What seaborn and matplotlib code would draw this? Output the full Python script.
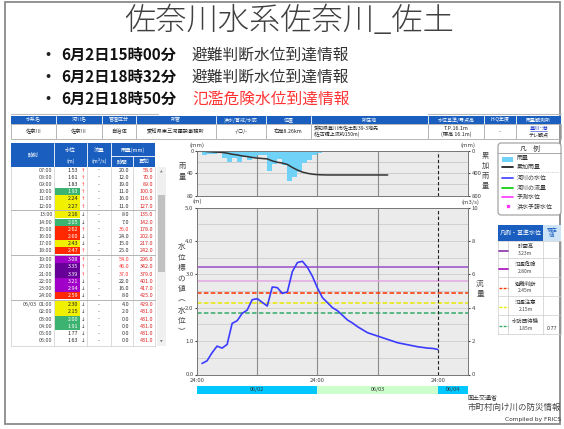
import numpy as np
import matplotlib.pyplot as plt
from matplotlib.patches import Rectangle, FancyBboxPatch
import seaborn as sns

sns.set_style("white")
plt.rcParams['font.family'] = ['Noto Sans CJK JP', 'DejaVu Sans']

W, H = 564, 429

# ---- slide text ----
TITLE = "佐奈川水系佐奈川_佐土"
ALERT_TIMES = ["6月2日15時00分", "6月2日18時32分", "6月2日18時50分"]
ALERT_TEXTS = ["避難判断水位到達情報", "避難判断水位到達情報", "氾濫危険水位到達情報"]
ALERT_COLORS = ["#333333", "#333333", "#ff3333"]

# ---- station header table ----
HEAD_EDGES = [11, 56, 102, 136, 216, 266, 311, 428, 484, 516, 561]
HEAD_NAMES = ["水系名", "河川名", "管理区分", "所管", "洪水/警戒/水防", "位置",
              "所在地", "水位基準/零点高", "H-Q年度", "雨量観測所"]
HEAD_VALUES = ["佐奈川", "佐奈川", "自治体", "愛知県東三河建設事務所", "-/○/-", "右岸8.26km",
               "愛知県豊川市佐土町39-3地先\n(佐古橋上流約150m)", "T.P.16.1m\n(標高 16.1m)", "-", ""]
RAIN_STATION = "豊川･港"
RAIN_STATION_SUB = "テレ観点"

# ---- time series (hours from 06/02 00:00) ----
level_hours = np.arange(1, 49)
water_level = [0.33, 0.41, 0.65, 0.85, 0.79, 0.90,
               1.53, 1.61, 1.83, 1.93, 2.24, 2.27,
               2.16, 2.05, 2.62, 2.60, 2.43, 2.47,
               3.08, 3.35, 3.39, 3.21, 2.94, 2.59,
               2.30, 2.15, 2.00, 1.91, 1.77, 1.63,
               1.54, 1.43, 1.34, 1.25, 1.20, 1.15,
               1.10, 1.05, 1.00, 0.95, 0.92, 0.89,
               0.86, 0.83, 0.81, 0.79, 0.78, 0.75]
rain_hours = np.arange(1, 39)
rain_hourly = [2, 8, 6, 5, 4, 13,
               20, 12, 19, 11, 16, 11,
               8, 7, 36, 24, 15, 25,
               54, 46, 37, 22, 16, 8,
               4, 2, 0, 0, 0, 0,
               0, 0, 0, 0, 0, 0, 0, 0]
cum_rain = np.cumsum(rain_hourly)

TABLE_FIRST, TABLE_LAST = 7, 30   # hours shown in the left table

# ---- reference levels ----
THRESH_NAMES = ["計画高", "氾濫危険", "避難判断", "氾濫注意", "水防団待機"]
THRESH_VALUES = [3.23, 2.80, 2.45, 2.15, 1.85]
THRESH_LINE_COLORS = ["#9b4dca", "#e3a6e3", "#ff3300", "#e8e800", "#33aa66"]
THRESH_LEGEND_COLORS = ["#9040b0", "#b020c0", "#ff3300", "#e8e800", "#33aa66"]
THRESH_STYLES = ["-", "-", "--", "--", "--"]
CURRENT_LEVEL = "0.77"

DAY_LABELS = ["06/02", "06/03", "06/04"]
DAY_START = [0, 24, 48]
DAY_END = [24, 48, 54]
DAY_COLORS = ["#00c8ff", "#ccffcc", "#00c8ff"]

BLUE = "#1a5fc0"
CELL_COLORS = ["#660099", "#a000c8", "#ff2800", "#f0f000", "#3cb371"]
CELL_LIMITS = [3.23, 2.80, 2.45, 2.15, 1.85]


def frect(x0, y0, x1, y1):
    return [x0 / W, 1 - y1 / H, (x1 - x0) / W, (y1 - y0) / H]


def level_color(v):
    for lim, c in zip(CELL_LIMITS, CELL_COLORS):
        if v >= lim:
            return c
    return None


fig = plt.figure(figsize=(W / 100, H / 100), dpi=100)
ov = fig.add_axes([0, 0, 1, 1])
ov.set_xlim(0, W)
ov.set_ylim(H, 0)
ov.axis("off")

# slide frame, title and bullets
ov.add_patch(Rectangle((5, 2), 555, 422, fill=False, ec="#8a8a8a", lw=1.3))
ov.text(289, 21, TITLE, ha="center", va="center", fontsize=22.5, color="#404040", fontweight=300)
for i, (t, s, c) in enumerate(zip(ALERT_TIMES, ALERT_TEXTS, ALERT_COLORS)):
    y = 55 + 22 * i
    ov.text(48, y, "•", ha="center", va="center", fontsize=11, color="#222")
    ov.text(61, y, t, ha="left", va="center", fontsize=11, color="#111", fontweight="bold")
    ov.text(192, y, s, ha="left", va="center", fontsize=11.3, color=c)

# station header table
ov.plot([11, 158], [114, 114], color="#bbbbbb", lw=0.8)
ov.plot([428, 561], [114, 114], color="#bbbbbb", lw=0.8)
ov.add_patch(Rectangle((11, 116), 550, 8, color=BLUE, lw=0))
ov.add_patch(Rectangle((11, 124), 550, 15, fill=False, ec="#aaaaaa", lw=0.6))
for k in range(len(HEAD_NAMES)):
    x0, x1 = HEAD_EDGES[k], HEAD_EDGES[k + 1]
    if k > 0:
        ov.plot([x0, x0], [116, 139], color="#ffffff", lw=0.6)
        ov.plot([x0, x0], [124, 139], color="#aaaaaa", lw=0.6)
    ov.text((x0 + x1) / 2, 120, HEAD_NAMES[k], ha="center", va="center", fontsize=3.6, color="white")
    if k == 6:
        ov.text(x0 + 3, 131.5, HEAD_VALUES[k], ha="left", va="center", fontsize=3.6,
                color="#222", linespacing=1.0)
    else:
        ov.text((x0 + x1) / 2, 131.5, HEAD_VALUES[k], ha="center", va="center", fontsize=3.8,
                color="#222", linespacing=1.0)
ov.text(538.5, 128, RAIN_STATION, ha="center", va="center", fontsize=3.8, color="#1a33cc")
ov.plot([530, 547], [131, 131], color="#1a33cc", lw=0.4)
ov.text(538.5, 135, RAIN_STATION_SUB, ha="center", va="center", fontsize=3.6, color="#222")

# left data table
cols = [11, 54, 87, 111, 133, 155]
ov.add_patch(Rectangle((11, 143), 144, 24, color=BLUE, lw=0))
for x in cols[1:4]:
    ov.plot([x, x], [143, 167], color="white", lw=0.6)
ov.plot([133, 133], [156, 167], color="white", lw=0.6)
ov.plot([111, 155], [156, 156], color="white", lw=0.6)
hdr = dict(ha="center", va="center", color="white", fontsize=3.9)
ov.text(32.5, 155, "時刻", **hdr)
ov.text(70.5, 150.5, "水位", **hdr)
ov.text(70.5, 161, "(m)", **hdr)
ov.text(99, 150.5, "流量", **hdr)
ov.text(99, 161, "(m³/s)", **hdr)
ov.text(133, 150.5, "雨量(mm)", **hdr)
ov.text(122, 161.5, "時間", **hdr)
ov.text(144, 161.5, "累加", **hdr)

for x in cols:
    ov.plot([x, x], [167, 346], color="#cccccc", lw=0.5)
ov.plot([11, 155], [346, 346], color="#cccccc", lw=0.5)

for i, h in enumerate(range(TABLE_FIRST, TABLE_LAST + 1)):
    yc = 170 + 7.2 * i + 1.7 * (i // 6)
    if i % 6 == 0 and i > 0:
        ov.plot([11, 155], [yc - 4.45, yc - 4.45], color="#999999", lw=0.5)
    lv = water_level[h - 1]
    c = level_color(lv)
    if c is not None:
        ov.add_patch(Rectangle((55, yc - 3.6), 25, 7.2, color=c, lw=0))
    tcol = "#222" if c in (None, "#f0f000") else "#ffffff"
    hh = h if h <= 24 else h - 24
    ov.text(52.5, yc, f"{hh:02d}:00", ha="right", va="center", fontsize=3.9, color="#444")
    if h == 25:
        ov.text(30, yc, "06/03", ha="center", va="center", fontsize=3.9, color="#444")
    ov.text(78, yc, f"{lv:.2f}", ha="right", va="center", fontsize=3.9, color=tcol)
    up = lv >= water_level[h - 2]
    ov.text(83.5, yc, "↑" if up else "↓", ha="center", va="center", fontsize=3.9,
            color="#ff3333" if up else "#333333", family="DejaVu Sans")
    ov.text(99, yc, "-", ha="center", va="center", fontsize=3.9, color="#333")
    r = rain_hourly[h - 1]
    ov.text(129.5, yc, f"{r:.1f}", ha="right", va="center", fontsize=3.9,
            color="#ff3333" if r >= 30 else "#333")
    ov.text(153, yc, f"{cum_rain[h - 1]:.1f}", ha="right", va="center", fontsize=3.9, color="#dd2222")

# scrollbar
ov.add_patch(Rectangle((157, 167), 9, 179, color="#f0f0f0", lw=0))
ov.add_patch(Rectangle((158, 195), 7, 77, color="#c1c1c1", lw=0))
ov.text(161.5, 171.5, "▲", ha="center", va="center", fontsize=2.5, color="#777", family="DejaVu Sans")
ov.text(161.5, 341.5, "▼", ha="center", va="center", fontsize=2.5, color="#777", family="DejaVu Sans")

# ---- rain chart ----
rax = fig.add_axes(frect(197, 151, 468, 195.5))
rax.set_facecolor("#ebebeb")
rax.bar(rain_hours - 0.5, rain_hourly, width=1.0, color="#70d2f6", lw=0, zorder=2)
rax.set_xlim(0, 54)
rax.set_ylim(80, 0)
rax.set_yticks([0, 40, 80])
rax.set_yticks([20, 60], minor=True)
rax.set_xticks([])
rax.grid(axis="y", which="both", color="#c8c8c8", lw=0.6, zorder=1)
for hx in (12, 24, 36):
    rax.axvline(hx, color="#8c8c8c", lw=0.8, zorder=1)
rax.axvline(48, color="#222", lw=0.8, ls=(0, (3, 2)), zorder=3)
rax.tick_params(axis="y", labelsize=4.3, length=1.5, pad=1, colors="#444")
rax.tick_params(axis="y", which="minor", length=0)
rax2 = rax.twinx()
sns.lineplot(x=np.concatenate([[0], rain_hours]), y=np.concatenate([[0], cum_rain]),
             ax=rax2, color="#333333", lw=1.1)
rax2.set_ylim(800, 0)
rax2.set_yticks([0, 400, 800])
rax2.tick_params(axis="y", labelsize=4.3, length=1.5, pad=1, colors="#444")
for a in (rax, rax2):
    for sp in a.spines.values():
        sp.set_color("#777")
        sp.set_linewidth(0.6)

# ---- water level chart ----
wax = fig.add_axes(frect(197, 207.5, 468, 374.5))
wax.set_facecolor("#ebebeb")
wax.set_xlim(0, 54)
wax.set_ylim(0, 5)
wax.set_yticks(np.arange(0, 6))
wax.set_yticklabels([f"{v:.1f}" for v in range(6)])
wax.set_yticks(np.arange(0.5, 5, 1.0), minor=True)
wax.grid(axis="y", which="both", color="#cdcdcd", lw=0.6, zorder=0)
for hx in (12, 24, 36):
    wax.axvline(hx, color="#8c8c8c", lw=0.8, zorder=1)
wax.axvline(48, color="#222", lw=0.8, ls=(0, (3, 2)), zorder=3)
for v, c, s in zip(THRESH_VALUES, THRESH_LINE_COLORS, THRESH_STYLES):
    wax.axhline(v, color=c, lw=1.1, ls=s if s == "-" else (0, (3, 1.5)), zorder=2)
sns.lineplot(x=level_hours, y=water_level, ax=wax, color="#3b3bff", lw=1.2, zorder=4)
wax.set_xticks([0, 24, 48])
wax.set_xticklabels(["24:00", "24:00", "24:00"])
wax.set_xlabel("")
wax.set_ylabel("")
wax.tick_params(axis="both", labelsize=4.3, length=1.5, pad=1, colors="#444")
wax.tick_params(axis="y", which="minor", length=0)
wax2 = wax.twinx()
wax2.set_ylim(0, 10)
wax2.set_yticks(np.arange(0, 11, 2))
wax2.tick_params(axis="y", labelsize=4.3, length=1.5, pad=1, colors="#444")
for a in (wax, wax2):
    for sp in a.spines.values():
        sp.set_color("#777")
        sp.set_linewidth(0.6)

# date bar
dax = fig.add_axes(frect(197, 386, 468, 394))
dax.set_xlim(0, 54)
dax.set_ylim(0, 1)
for lab, s, e, c in zip(DAY_LABELS, DAY_START, DAY_END, DAY_COLORS):
    dax.axvspan(s, e, color=c, lw=0)
    dax.text((s + e) / 2, 0.5, lab, ha="center", va="center", fontsize=4, color="#333")
dax.axis("off")

# axis unit labels and vertical titles
small = dict(fontsize=4.3, color="#444", ha="center", va="center")
ov.text(197, 145, "(mm)", **small)
ov.text(468, 145, "(mm)", **small)
ov.text(197, 201, "(m)", **small)
ov.text(470, 202, "(m3/s)", **small)
for k, ch in enumerate("雨量"):
    ov.text(182, 166 + 11 * k, ch, ha="center", va="center", fontsize=5.2, color="#444")
for k, ch in enumerate("累加雨量"):
    ov.text(485.5, 156 + 10 * k, ch, ha="center", va="center", fontsize=5.2, color="#444")
for k, ch in enumerate("流量"):
    ov.text(480, 284 + 10 * k, ch, ha="center", va="center", fontsize=5.5, color="#444")
for k, ch in enumerate("水位標の値︵水位︶"):
    ov.text(181.5, 247 + 10.6 * k, ch, ha="center", va="center", fontsize=5.5, color="#444")

# ---- legend box ----
ov.add_patch(FancyBboxPatch((498, 143), 63, 72, boxstyle="round,pad=0,rounding_size=3",
                            fc="white", ec="#999999", lw=0.8))
ov.text(529.5, 148.5, "凡　例", ha="center", va="center", fontsize=4.8, color="#333")
ov.plot([498, 561], [153, 153], color="#999999", lw=0.6)
ov.add_patch(Rectangle((502, 156.5), 11, 5, color="#70d2f6", lw=0))
ov.text(517, 159, "雨量", ha="left", va="center", fontsize=4.3, color="#333")
ov.plot([502, 513], [167, 167], color="#111", lw=1.2)
ov.text(517, 167, "累加雨量", ha="left", va="center", fontsize=4.3, color="#333")
ov.plot([500, 559], [172, 172], color="#aaaaaa", lw=0.5, ls=":")
for y, c, lab in [(178, "#3b3bff", "河川の水位"), (188, "#00cc00", "河川の流量"), (197, "#ff33ff", "予測水位")]:
    ov.plot([502, 513], [y, y], color=c, lw=1.2)
    ov.text(517, y, lab, ha="left", va="center", fontsize=4.3, color="#333")
ov.plot([507.5], [206], marker="s", ms=1.5, color="#ff33ff")
ov.text(517, 206, "洪水予報水位", ha="left", va="center", fontsize=4.3, color="#333")

# ---- reference level table ----
ov.add_patch(Rectangle((498, 225), 45, 16, color=BLUE, lw=0))
ov.add_patch(Rectangle((543, 225), 18, 16, color="#cfe3f7", lw=0))
ov.text(520.5, 233, "凡例・基準水位", ha="center", va="center", fontsize=4.3, color="white")
ov.text(552, 233, "現在\n値", ha="center", va="center", fontsize=3.9, color=BLUE, linespacing=1.0)
row_edges = [241, 258, 277, 296, 315, 334]
for x in (498, 508, 543, 561):
    ov.plot([x, x], [241, 334], color="#cccccc", lw=0.5)
for y in row_edges:
    ov.plot([498, 561], [y, y], color="#cccccc", lw=0.5)
for k, (n, v, c, s) in enumerate(zip(THRESH_NAMES, THRESH_VALUES, THRESH_LEGEND_COLORS, THRESH_STYLES)):
    y0, y1 = row_edges[k], row_edges[k + 1]
    ym = (y0 + y1) / 2
    ov.plot([499, 508], [ym + 1, ym + 1], color=c, lw=1.3 if s == "-" else 1.0,
            ls=s if s == "-" else (0, (2, 1)))
    ov.text(525.5, ym - 3, n, ha="center", va="center", fontsize=3.9, color="#333")
    ov.text(525.5, ym + 4, f"{v:.2f}m", ha="center", va="center", fontsize=3.6, color="#444")
ov.text(552, 329, CURRENT_LEVEL, ha="center", va="center", fontsize=3.9, color="#333")

# footer
ov.text(468, 397, "国土交通省", ha="left", va="center", fontsize=4.3, color="#333")
ov.text(468, 407.5, "市町村向け川の防災情報", ha="left", va="center", fontsize=6.1, color="#444")
ov.text(561, 419, "Compiled by FRICS", ha="right", va="center", fontsize=4.2, color="#333",
        family="DejaVu Sans")

fig.savefig("out.png", dpi=100)
